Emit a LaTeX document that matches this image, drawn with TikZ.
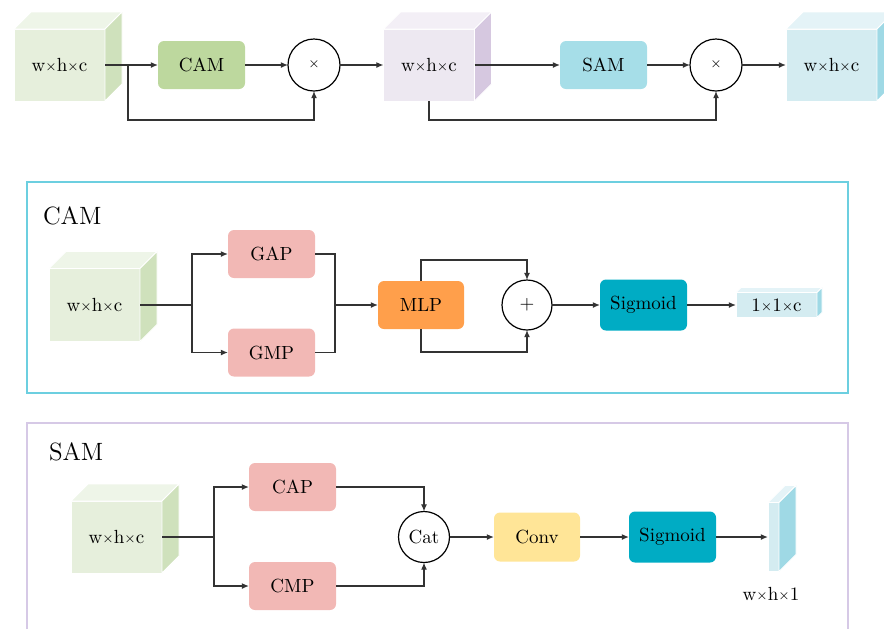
\documentclass[tikz,border=0pt]{standalone}
\usetikzlibrary{calc,arrows.meta}
\definecolor{lineg}{HTML}{333333}
\definecolor{gfront}{HTML}{E6EFDC}
\definecolor{gside}{HTML}{CFE1BC}
\definecolor{gtop}{HTML}{EEF5E8}
\definecolor{pfront}{HTML}{EDE8F1}
\definecolor{pside}{HTML}{D6C8E0}
\definecolor{ptop}{HTML}{F3EFF6}
\definecolor{cfront}{HTML}{D4ECF1}
\definecolor{cside}{HTML}{9FD9E5}
\definecolor{ctop}{HTML}{E4F3F7}
\definecolor{camc}{HTML}{BDD89E}
\definecolor{samc}{HTML}{A6DEE8}
\definecolor{poolc}{HTML}{F2B8B5}
\definecolor{mlpc}{HTML}{FF9F4B}
\definecolor{sigc}{HTML}{00ACC4}
\definecolor{convc}{HTML}{FFE597}
\definecolor{camframe}{HTML}{6CCFE0}
\definecolor{samframe}{HTML}{D6C9E6}
\newcommand{\tms}{\raisebox{0.5pt}{\fontsize{6.5}{6.5}\selectfont ×}}
\newcommand{\drawcube}[4]{%
  \filldraw[draw=white, line width=0.4pt, fill=#4] (#1.north west) -- ++(#2,-#2) -- ($(#1.north east)+(#2,-#2)$) -- (#1.north east) -- cycle;
  \filldraw[draw=white, line width=0.4pt, fill=#3] (#1.north east) -- ++(#2,-#2) -- ($(#1.south east)+(#2,-#2)$) -- (#1.south east) -- cycle;}
\begin{document}
\begin{tikzpicture}[x=0.5pt, y=-0.5pt,
  every node/.style={font=\fontsize{9.5}{11}\selectfont, inner sep=0pt, outer sep=0pt},
  cubefront/.style={draw=white, line width=0.4pt, minimum width=45.5pt, minimum height=36pt},
  block/.style={rounded corners=3pt, minimum width=43.5pt, minimum height=24pt},
  opcircle/.style={circle, draw=black, line width=0.6pt, minimum size=26pt},
  conn/.style={draw=lineg, line width=0.65pt},
  arr/.style={conn, -{Latex[length=3.6pt,width=3pt]}},
  paneltitle/.style={font=\fontsize{12.5}{14}\selectfont, anchor=west}]
\useasboundingbox (0,0) rectangle (884,629);

% ---------- top row ----------
\node[cubefront, fill=gfront] (in1) at (59.5,65) {w\tms h\tms c};
\drawcube{in1}{17}{gside}{gtop}
\node[block, fill=camc] (cam) at (201.5,65) {CAM};
\node[opcircle] (mul1) at (314,65) {\tms};
\node[cubefront, fill=pfront] (in2) at (429,65) {w\tms h\tms c};
\drawcube{in2}{17}{pside}{ptop}
\node[block, fill=samc] (sam) at (603.5,65) {SAM};
\node[opcircle] (mul2) at (716,65) {\tms};
\node[cubefront, fill=cfront] (out) at (831.5,65) {w\tms h\tms c};
\drawcube{out}{17}{cside}{ctop}

\coordinate (b1) at (128,65);
\draw[arr] (in1.east) -- (cam.west);
\draw[arr] (b1) -- (128,120) -| (mul1.south);
\draw[arr] (cam.east) -- (mul1.west);
\draw[arr] (mul1.east) -- (in2.west);
\draw[arr] (in2.east) -- (sam.west);
\draw[arr] (in2.south) -- ++(0,19) -| (mul2.south);
\draw[arr] (sam.east) -- (mul2.west);
\draw[arr] (mul2.east) -- (out.west);

% ---------- CAM panel ----------
\draw[camframe, line width=1pt] (27,182) rectangle (848,393);
\node[paneltitle] (camtitle) at (43,216) {CAM};
\node[cubefront, fill=gfront, minimum height=36.5pt] (cin) at (94.5,305) {w\tms h\tms c};
\drawcube{cin}{17}{gside}{gtop}
\node[block, fill=poolc] (gap) at (271.5,254) {GAP};
\node[block, fill=poolc] (gmp) at (271.5,352.5) {GMP};
\node[block, fill=mlpc, minimum width=43pt] (mlp) at (421,305) {MLP};
\node[opcircle, minimum size=25pt] (add) at (527,305) {+};
\node[block, fill=sigc, minimum height=25.5pt] (sig1) at (643.5,305) {Sigmoid};
\node[draw=white, line width=0.4pt, fill=cfront, minimum width=40.5pt, minimum height=12.5pt] (vec) at (776.5,305) {1\tms 1\tms c};
\drawcube{vec}{5}{cside}{ctop}

\coordinate (cb) at (192,305);
\coordinate (cm) at (335,305);
\draw[conn] (cin.east) -- (cb);
\draw[arr] (cb) |- (gap.west);
\draw[arr] (cb) |- (gmp.west);
\draw[conn] (gap.east) -| (cm);
\draw[conn] (gmp.east) -| (cm);
\draw[arr] (cm) -- (mlp.west);
\draw[arr] (mlp.north) -- ++(0,-21) -| (add.north);
\draw[arr] (mlp.south) -- ++(0,23) -| (add.south);
\draw[arr] (add.east) -- (sig1.west);
\draw[arr] (sig1.east) -- (vec.west);

% ---------- SAM panel ----------
\draw[samframe, line width=1pt] (27,629) -- (27,423) -- (848,423) -- (848,629);
\node[paneltitle] (samtitle) at (49,452) {SAM};
\node[cubefront, fill=gfront] (sin) at (116.5,537) {w\tms h\tms c};
\drawcube{sin}{17}{gside}{gtop}
\node[block, fill=poolc] (cap) at (292.5,487) {CAP};
\node[block, fill=poolc] (cmp) at (292.5,586) {CMP};
\node[opcircle, minimum size=25.5pt] (cat) at (424,537) {Cat};
\node[block, fill=convc, minimum width=43pt, minimum height=24.5pt] (conv) at (537,537) {Conv};
\node[block, fill=sigc, minimum height=25.5pt] (sig2) at (672.5,537) {Sigmoid};
\node[draw=white, line width=0.4pt, fill=cfront, minimum width=5.5pt, minimum height=34.5pt] (slab) at (773.5,537) {};
\drawcube{slab}{17}{cside}{ctop}
\node (slablabel) at (771,594) {w\tms h\tms 1};

\coordinate (sb) at (214,537);
\draw[conn] (sin.east) -- (sb);
\draw[arr] (sb) |- (cap.west);
\draw[arr] (sb) |- (cmp.west);
\draw[arr] (cap.east) -| (cat.north);
\draw[arr] (cmp.east) -| (cat.south);
\draw[arr] (cat.east) -- (conv.west);
\draw[arr] (conv.east) -- (sig2.west);
\draw[arr] (sig2.east) -- (slab.west);
\end{tikzpicture}
\end{document}
